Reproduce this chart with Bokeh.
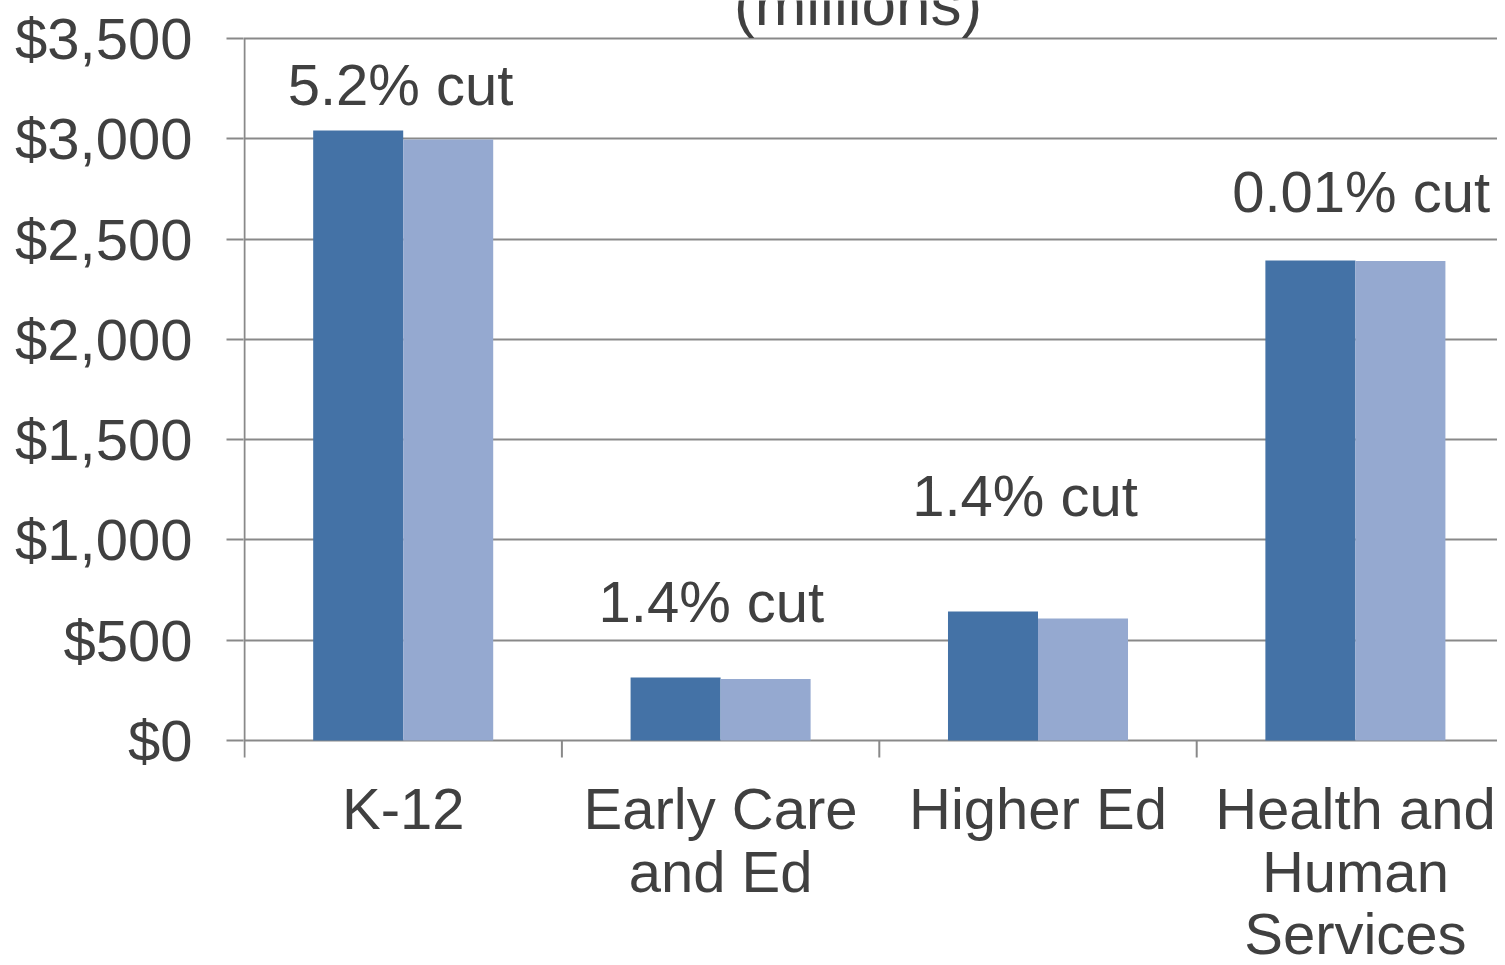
from bokeh.plotting import figure
from bokeh.models import Range1d, FixedTicker
from bokeh.core.properties import value
from bokeh.embed import file_html
from bokeh.resources import INLINE

# ---- data ----
categories = ["K-12", "Early Care\nand Ed", "Higher Ed", "Health and\nHuman\nServices"]
before_cut = [3041, 314, 643, 2393]
after_cut = [2997, 307, 608, 2391]
cut_labels = ["5.2% cut", "1.4% cut", "1.4% cut", "0.01% cut"]
y_ticks = [0, 500, 1000, 1500, 2000, 2500, 3000, 3500]
y_tick_labels = ["$0", "$500", "$1,000", "$1,500", "$2,000", "$2,500", "$3,000", "$3,500"]
title_text = "(millions)"

# ---- styling / layout ----
FONT = "Liberation Sans"
TXT = "#404040"
DARK = "#4472A6"
LIGHT = "#95A9D0"
GRAY = "#898989"
W, H = 1497, 957
LEFT = 243                 # frame left edge (px)
X0_PX = 244                # pixel of category boundary 0
CAT_PX = 317.4             # px per category
ZERO_PX = 740              # pixel row of value 0
K = 702 / 3500             # px per value unit
TICK_PX = 17
BAR_W = 0.2836
TEXT_FIX = 22              # px correction between requested and rendered baseline
label_dx = [-0.0085, -0.029, -0.041, 0.018]     # label centre offset from category centre
label_base_px = [106, 623, 517, 213]            # label baselines (px)
line_baselines_px = [830, 893, 955]             # category label line baselines (px)
title_x, title_base_px = 1.933, 25


def px_to_val(py):
    return (ZERO_PX - (py - TEXT_FIX)) / K


n = len(categories)
centers = [i + 0.5 for i in range(n)]

x_range = Range1d(-(X0_PX - LEFT) / CAT_PX, (W - X0_PX) / CAT_PX)
y_range = Range1d((ZERO_PX - H) / K, ZERO_PX / K)

p = figure(width=W, height=H, output_backend="svg", toolbar_location=None,
           x_range=x_range, y_range=y_range, x_axis_location=None,
           min_border_left=LEFT, min_border_right=0, min_border_top=0,
           min_border_bottom=0)
p.outline_line_color = None
p.background_fill_color = "white"
p.border_fill_color = "white"

# grid (includes the baseline at 0)
p.xgrid.grid_line_color = None
p.ygrid.ticker = FixedTicker(ticks=y_ticks)
p.ygrid.grid_line_color = GRAY
p.ygrid.grid_line_width = 2

# bars
p.vbar(x=[c - BAR_W / 2 for c in centers], top=before_cut, width=BAR_W,
       fill_color=DARK, line_color=None)
p.vbar(x=[c + BAR_W / 2 for c in centers], top=after_cut, width=BAR_W,
       fill_color=LIGHT, line_color=None)

# axis lines and category-boundary ticks
tick_len = TICK_PX / K
bounds = list(range(n + 1))
p.segment(x0=bounds, y0=[0] * len(bounds), x1=bounds, y1=[-tick_len] * len(bounds),
          line_color=GRAY, line_width=2)
p.segment(x0=[0], y0=[0], x1=[0], y1=[y_ticks[-1]], line_color=GRAY, line_width=2)

# cut labels
p.text(x=[c + d for c, d in zip(centers, label_dx)],
       y=[px_to_val(b) for b in label_base_px], text=cut_labels,
       text_font=value(FONT), text_font_size="58px", text_color=TXT,
       text_align="center", text_baseline="alphabetic")

# category labels
cx, cy, ct = [], [], []
for c, cat in zip(centers, categories):
    for k, line in enumerate(cat.split("\n")):
        cx.append(c)
        cy.append(px_to_val(line_baselines_px[k]))
        ct.append(line)
p.text(x=cx, y=cy, text=ct, text_font=value(FONT), text_font_size="58px",
       text_color=TXT, text_align="center", text_baseline="alphabetic")

# title (clipped at the top as in the original)
p.text(x=[title_x], y=[px_to_val(title_base_px)], text=[title_text],
       text_font=value(FONT), text_font_size="62px", text_color=TXT,
       text_align="center", text_baseline="alphabetic")

# y axis
p.yaxis.ticker = FixedTicker(ticks=y_ticks)
p.yaxis.major_label_overrides = {t: l for t, l in zip(y_ticks, y_tick_labels)}
p.yaxis.major_label_text_font = FONT
p.yaxis.major_label_text_font_size = "58px"
p.yaxis.major_label_text_color = TXT
p.yaxis.major_label_standoff = 34
p.yaxis.major_tick_out = TICK_PX
p.yaxis.major_tick_in = 0
p.yaxis.minor_tick_line_color = None
p.yaxis.axis_line_color = None
p.yaxis.major_tick_line_color = GRAY
p.yaxis.major_tick_line_width = 2

open("out.html", "w").write(file_html(p, INLINE))
